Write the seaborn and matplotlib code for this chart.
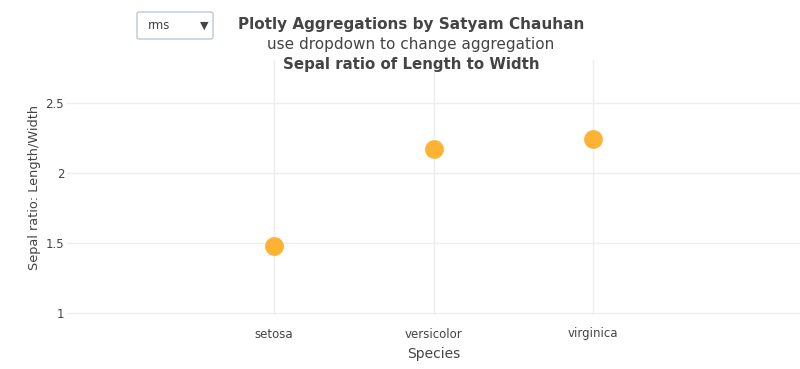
import matplotlib
matplotlib.use("Agg")
import matplotlib.pyplot as plt
import seaborn as sns
import pandas as pd
from matplotlib.patches import FancyBboxPatch

species = ["setosa", "versicolor", "virginica"]
ratio_rms = [1.479, 2.171, 2.243]
y_ticks = [1, 1.5, 2, 2.5]
y_tick_labels = ["1", "1.5", "2", "2.5"]

df = pd.DataFrame({"Species": species, "ratio": ratio_rms})

sns.set_theme(style="white")
plt.rcParams['font.family'] = ['DejaVu Sans']
TXT = "#444444"
GRID = "#eeeeee"

fig = plt.figure(figsize=(8, 3.69), dpi=100)
ax = fig.add_axes([67/800, 1-315/369, 1-67/800, (315-60)/369])

sns.stripplot(data=df, x="Species", y="ratio", jitter=False, ax=ax,
              color="#fcb233", s=13.5, linewidth=0, zorder=3)

ax.set_xlim(-1.3, 3.3)
ax.set_ylim(1.0 - 2/140, 2.807)
ax.set_yticks(y_ticks)
ax.set_yticklabels(y_tick_labels)
ax.grid(True, color=GRID, linewidth=1)
ax.set_axisbelow(True)
for s in ax.spines.values():
    s.set_visible(False)
ax.tick_params(axis="both", length=0, colors=TXT, labelsize=8.5)
ax.tick_params(axis="y", pad=2)
ax.tick_params(axis="x", pad=9)
ax.set_xlabel("Species", color=TXT, fontsize=10, labelpad=5)
ax.set_ylabel("Sepal ratio: Length/Width", color=TXT, fontsize=9.3, labelpad=3)

fig.text(411/800, 1-24/369, "Plotly Aggregations by Satyam Chauhan", ha="center", va="center",
         fontsize=11, fontweight="bold", color=TXT)
fig.text(411/800, 1-45/369, "use dropdown to change aggregation", ha="center", va="center",
         fontsize=11, color=TXT)
fig.text(411/800, 1-65/369, "Sepal ratio of Length to Width", ha="center", va="center",
         fontsize=10.8, fontweight="bold", color=TXT)

box = FancyBboxPatch((137/800, 1-39/369), 76/800, 27/369, boxstyle="round,pad=0,rounding_size=0.004",
                     transform=fig.transFigure, facecolor="white", edgecolor="#bec8d9", linewidth=1)
fig.patches.append(box)
fig.text(148/800, 1-25.5/369, "rms", ha="left", va="center", fontsize=8.5, color=TXT)
fig.text(204/800, 1-25.5/369, "▼", ha="center", va="center", fontsize=8, color=TXT)

fig.savefig("out.png", dpi=100)
